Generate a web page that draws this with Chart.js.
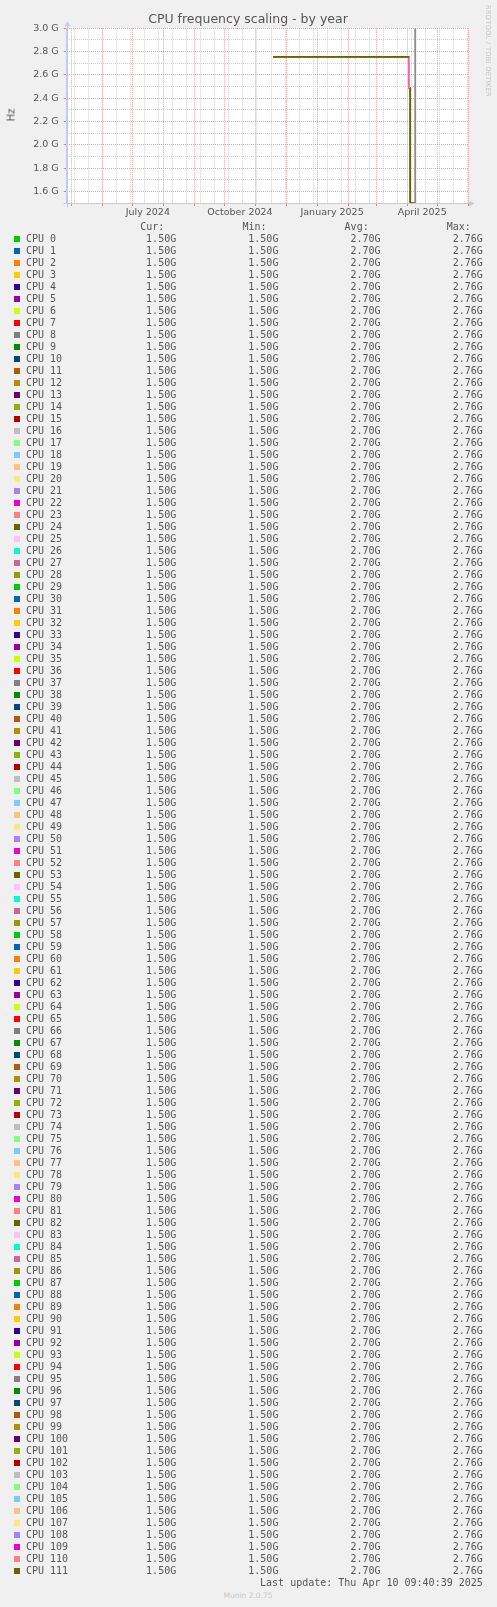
<!DOCTYPE html>
<html lang="en">
<head>
<meta charset="UTF-8" />
<title>CPU frequency scaling - by year</title>
<script src="https://cdn.jsdelivr.net/npm/chart.js"></script>
<style>
  body {
    margin: 0;
    background: #f0f0f0;
    width: 497px;
    height: 1607px;
    position: relative;
    overflow: hidden;
    font-family: "DejaVu Sans", sans-serif;
    color: #555;
  }
  #graph { position: absolute; left: 0; top: 0; }
  .t { position: absolute; white-space: pre; }
  .title { left: 0; width: 496px; top: 11px; text-align: center; font-size: 12.5px; line-height: 16px; color: #555; }
  .hz { left: 11px; top: 115px; font-size: 10px; transform: translate(-50%, -50%) rotate(-90deg); }
  .rrd { left: 484px; top: 5px; font-size: 6.8px; color: #c4c4c4; writing-mode: vertical-rl; letter-spacing: 0.2px; }
  .mono { font-family: "DejaVu Sans Mono", monospace; font-size: 10px; line-height: 12px; color: #555; }
  .box { position: absolute; width: 6px; height: 6px; }
  .munin { left: 0; width: 496px; text-align: center; top: 1591px; font-size: 7.5px; line-height: 10px; color: #c8c8c8; }
</style>
</head>
<body>
<canvas id="graph" width="497" height="226"></canvas>
<div class="t title">CPU frequency scaling - by year</div>
<div class="t hz">Hz</div>
<div class="t rrd">RRDTOOL / TOBI OETIKER</div>
<div id="legend"></div>
<div class="t munin">Munin 2.0.75</div>

<script>
  // x values are days counted from the left edge of the plot (26 Apr 2024)
  const AXIS_START = Date.UTC(2024, 3, 26);
  function dayOf(s) {
    return (Date.parse(s + "T00:00:00Z") - AXIS_START) / 86400000;
  }

  const monthStarts = [
    "2024-05-01", "2024-06-01", "2024-07-01", "2024-08-01", "2024-09-01",
    "2024-10-01", "2024-11-01", "2024-12-01", "2025-01-01", "2025-02-01",
    "2025-03-01", "2025-04-01", "2025-05-01", "2025-06-01",
  ];
  const minorGridDays = [
    8, 22, 36, 50, 64, 78, 92, 106, 120, 134, 148, 162, 176, 190, 204,
    218, 232, 246, 260, 274, 288, 302, 316, 330, 344, 358, 372, 386, 400,
  ];
  const xLabelDates = ["2024-07-16", "2024-10-16", "2025-01-16", "2025-04-16"];
  const xLabelTexts = ["July 2024", "October 2024", "January 2025", "April 2025"];

  const yMajorTicks = [1.6, 1.8, 2.0, 2.2, 2.4, 2.6, 2.8, 3.0];
  const yMinorTicks = [1.7, 1.9, 2.1, 2.3, 2.5, 2.7, 2.9];

  // frequency trace in GHz (same for every core, CPU 111 has one unknown step)
  const freqTraceDays = [206, 342, 342, 343, 343, 348];
  const freqTraceGHz = [2.755, 2.755, 2.49, 2.49, 1.5, 1.5];
  const cpu111TraceGHz = [2.755, 2.755, null, 2.49, 1.5, 1.5];

  const markerDays = [348, 348];
  const markerGHz = [1.5, 3.0];

  const cpuLabels = Array.from({ length: 112 }, (_, i) => "CPU " + i);

  const curGHz = [
    1.50, 1.50, 1.50, 1.50, 1.50, 1.50, 1.50, 1.50, 1.50, 1.50, 1.50, 1.50, 1.50, 1.50, 1.50, 1.50,
    1.50, 1.50, 1.50, 1.50, 1.50, 1.50, 1.50, 1.50, 1.50, 1.50, 1.50, 1.50, 1.50, 1.50, 1.50, 1.50,
    1.50, 1.50, 1.50, 1.50, 1.50, 1.50, 1.50, 1.50, 1.50, 1.50, 1.50, 1.50, 1.50, 1.50, 1.50, 1.50,
    1.50, 1.50, 1.50, 1.50, 1.50, 1.50, 1.50, 1.50, 1.50, 1.50, 1.50, 1.50, 1.50, 1.50, 1.50, 1.50,
    1.50, 1.50, 1.50, 1.50, 1.50, 1.50, 1.50, 1.50, 1.50, 1.50, 1.50, 1.50, 1.50, 1.50, 1.50, 1.50,
    1.50, 1.50, 1.50, 1.50, 1.50, 1.50, 1.50, 1.50, 1.50, 1.50, 1.50, 1.50, 1.50, 1.50, 1.50, 1.50,
    1.50, 1.50, 1.50, 1.50, 1.50, 1.50, 1.50, 1.50, 1.50, 1.50, 1.50, 1.50, 1.50, 1.50, 1.50, 1.50,
  ];
  const minGHz = [
    1.50, 1.50, 1.50, 1.50, 1.50, 1.50, 1.50, 1.50, 1.50, 1.50, 1.50, 1.50, 1.50, 1.50, 1.50, 1.50,
    1.50, 1.50, 1.50, 1.50, 1.50, 1.50, 1.50, 1.50, 1.50, 1.50, 1.50, 1.50, 1.50, 1.50, 1.50, 1.50,
    1.50, 1.50, 1.50, 1.50, 1.50, 1.50, 1.50, 1.50, 1.50, 1.50, 1.50, 1.50, 1.50, 1.50, 1.50, 1.50,
    1.50, 1.50, 1.50, 1.50, 1.50, 1.50, 1.50, 1.50, 1.50, 1.50, 1.50, 1.50, 1.50, 1.50, 1.50, 1.50,
    1.50, 1.50, 1.50, 1.50, 1.50, 1.50, 1.50, 1.50, 1.50, 1.50, 1.50, 1.50, 1.50, 1.50, 1.50, 1.50,
    1.50, 1.50, 1.50, 1.50, 1.50, 1.50, 1.50, 1.50, 1.50, 1.50, 1.50, 1.50, 1.50, 1.50, 1.50, 1.50,
    1.50, 1.50, 1.50, 1.50, 1.50, 1.50, 1.50, 1.50, 1.50, 1.50, 1.50, 1.50, 1.50, 1.50, 1.50, 1.50,
  ];
  const avgGHz = [
    2.70, 2.70, 2.70, 2.70, 2.70, 2.70, 2.70, 2.70, 2.70, 2.70, 2.70, 2.70, 2.70, 2.70, 2.70, 2.70,
    2.70, 2.70, 2.70, 2.70, 2.70, 2.70, 2.70, 2.70, 2.70, 2.70, 2.70, 2.70, 2.70, 2.70, 2.70, 2.70,
    2.70, 2.70, 2.70, 2.70, 2.70, 2.70, 2.70, 2.70, 2.70, 2.70, 2.70, 2.70, 2.70, 2.70, 2.70, 2.70,
    2.70, 2.70, 2.70, 2.70, 2.70, 2.70, 2.70, 2.70, 2.70, 2.70, 2.70, 2.70, 2.70, 2.70, 2.70, 2.70,
    2.70, 2.70, 2.70, 2.70, 2.70, 2.70, 2.70, 2.70, 2.70, 2.70, 2.70, 2.70, 2.70, 2.70, 2.70, 2.70,
    2.70, 2.70, 2.70, 2.70, 2.70, 2.70, 2.70, 2.70, 2.70, 2.70, 2.70, 2.70, 2.70, 2.70, 2.70, 2.70,
    2.70, 2.70, 2.70, 2.70, 2.70, 2.70, 2.70, 2.70, 2.70, 2.70, 2.70, 2.70, 2.70, 2.70, 2.70, 2.70,
  ];
  const maxGHz = [
    2.76, 2.76, 2.76, 2.76, 2.76, 2.76, 2.76, 2.76, 2.76, 2.76, 2.76, 2.76, 2.76, 2.76, 2.76, 2.76,
    2.76, 2.76, 2.76, 2.76, 2.76, 2.76, 2.76, 2.76, 2.76, 2.76, 2.76, 2.76, 2.76, 2.76, 2.76, 2.76,
    2.76, 2.76, 2.76, 2.76, 2.76, 2.76, 2.76, 2.76, 2.76, 2.76, 2.76, 2.76, 2.76, 2.76, 2.76, 2.76,
    2.76, 2.76, 2.76, 2.76, 2.76, 2.76, 2.76, 2.76, 2.76, 2.76, 2.76, 2.76, 2.76, 2.76, 2.76, 2.76,
    2.76, 2.76, 2.76, 2.76, 2.76, 2.76, 2.76, 2.76, 2.76, 2.76, 2.76, 2.76, 2.76, 2.76, 2.76, 2.76,
    2.76, 2.76, 2.76, 2.76, 2.76, 2.76, 2.76, 2.76, 2.76, 2.76, 2.76, 2.76, 2.76, 2.76, 2.76, 2.76,
    2.76, 2.76, 2.76, 2.76, 2.76, 2.76, 2.76, 2.76, 2.76, 2.76, 2.76, 2.76, 2.76, 2.76, 2.76, 2.76,
  ];

  const lastUpdate = "Last update: Thu Apr 10 09:40:39 2025";

  const palette = [
    "#00CC00", "#0066B3", "#FF8000", "#FFCC00", "#330099", "#990099", "#CCFF00",
    "#FF0000", "#808080", "#008F00", "#00487D", "#B35A00", "#B38F00", "#6B006B",
    "#8FB300", "#B30000", "#BEBEBE", "#80FF80", "#80C9FF", "#FFC080", "#FFE680",
    "#AA80FF", "#EE00CC", "#FF8080", "#666600", "#FFBFFF", "#00FFCC", "#CC6699",
    "#999900",
  ];

  const RED_GRID = "#eba3a3";
  const GREY_GRID = "#cfcfcf";
  const AXIS_COLOR = "#c4c8f2";

  // x ticks: minor first so month lines are painted on top
  const xTicks = []
    .concat(minorGridDays.map((d) => ({ value: d, kind: "minor" })))
    .concat(monthStarts.map((s) => ({ value: dayOf(s), kind: "month" })))
    .concat(xLabelDates.map((s, i) => ({ value: dayOf(s), kind: "label", text: xLabelTexts[i] })));

  const yTicks = []
    .concat(yMinorTicks.map((v) => ({ value: v, kind: "minor" })))
    .concat(yMajorTicks.map((v) => ({ value: v, kind: "major" })));

  const datasets = cpuLabels.map((name, i) => {
    const ys = i === 111 ? cpu111TraceGHz : freqTraceGHz;
    return {
      label: name,
      data: freqTraceDays.map((d, k) => ({ x: d, y: ys[k] })),
      borderColor: palette[i % palette.length],
      borderWidth: 1.6,
      pointRadius: 0,
      tension: 0,
      fill: false,
      order: 111 - i,
    };
  });
  datasets.push({
    label: "marker",
    data: markerDays.map((d, k) => ({ x: d, y: markerGHz[k] })),
    borderColor: "#8c8c8c",
    borderWidth: 1.8,
    pointRadius: 0,
    fill: false,
    order: -1,
  });

  const plotBackground = {
    id: "plotBackground",
    beforeDraw(chart) {
      const a = chart.chartArea;
      const ctx = chart.ctx;
      ctx.save();
      ctx.fillStyle = "#ffffff";
      ctx.fillRect(a.left, a.top, a.right - a.left, a.bottom - a.top);
      ctx.restore();
    },
  };

  const axisArrows = {
    id: "axisArrows",
    afterDraw(chart) {
      const a = chart.chartArea;
      const ctx = chart.ctx;
      const x0 = Math.round(a.left) + 0.5;
      const y0 = Math.round(a.bottom) + 0.5;
      ctx.save();
      ctx.strokeStyle = AXIS_COLOR;
      ctx.fillStyle = AXIS_COLOR;
      ctx.lineWidth = 1;
      ctx.beginPath();
      ctx.moveTo(x0 - 4, y0);
      ctx.lineTo(a.right + 3, y0);
      ctx.moveTo(x0, y0 + 4);
      ctx.lineTo(x0, a.top - 3);
      ctx.stroke();
      ctx.beginPath();
      ctx.moveTo(a.right + 6, y0);
      ctx.lineTo(a.right + 1, y0 - 3);
      ctx.lineTo(a.right + 1, y0 + 3);
      ctx.closePath();
      ctx.fill();
      ctx.beginPath();
      ctx.moveTo(x0, a.top - 7);
      ctx.lineTo(x0 - 3, a.top - 2);
      ctx.lineTo(x0 + 3, a.top - 2);
      ctx.closePath();
      ctx.fill();
      ctx.restore();
    },
  };

  new Chart(document.getElementById("graph").getContext("2d"), {
    type: "line",
    data: { datasets: datasets },
    plugins: [plotBackground, axisArrows],
    options: {
      responsive: false,
      animation: false,
      events: [],
      layout: { padding: { left: 0, right: 28.7, top: 28.3, bottom: 0 } },
      plugins: { legend: { display: false }, title: { display: false }, tooltip: { enabled: false } },
      scales: {
        x: {
          type: "linear",
          min: 0,
          max: 401,
          afterFit: (s) => { s.height = 23; },
          afterBuildTicks: (s) => { s.ticks = xTicks.map((t) => Object.assign({}, t)); },
          ticks: {
            autoSkip: false,
            maxRotation: 0,
            padding: 1,
            color: "#555",
            font: { family: "DejaVu Sans", size: 9.5 },
            callback: (v, i, ticks) => (ticks[i].kind === "label" ? ticks[i].text : ""),
          },
          grid: {
            color: (c) => (c.tick && c.tick.kind === "month" ? RED_GRID : GREY_GRID),
            lineWidth: (c) => (c.tick && c.tick.kind === "label" ? 0 : 1),
            tickLength: 3,
            tickColor: (c) => (c.tick && c.tick.kind === "month" ? "#e08080" : "rgba(0,0,0,0)"),
          },
          border: { color: AXIS_COLOR, dash: [1, 1] },
        },
        y: {
          type: "linear",
          min: 1.5,
          max: 3.0,
          afterFit: (s) => { s.width = 66.7; },
          afterBuildTicks: (s) => { s.ticks = yTicks.map((t) => Object.assign({}, t)); },
          ticks: {
            autoSkip: false,
            padding: 5,
            color: "#555",
            font: { family: "DejaVu Sans", size: 9.5 },
            callback: (v, i, ticks) => (ticks[i].kind === "major" ? ticks[i].value.toFixed(1) + " G" : ""),
          },
          grid: {
            color: (c) => (c.tick && c.tick.kind === "major" ? RED_GRID : GREY_GRID),
            lineWidth: 1,
            tickLength: 3,
            tickColor: (c) => (c.tick && c.tick.kind === "major" ? "#e08080" : "rgba(0,0,0,0)"),
          },
          border: { color: AXIS_COLOR, dash: [1, 1] },
        },
      },
    },
  });

  // legend table under the graph
  const legend = document.getElementById("legend");
  const ROW0 = 239.3;
  const ROW_STEP = 12;
  const colRight = [176.2, 278.4, 380.6, 482.8];
  const colHeads = ["Cur:", "Min:", "Avg:", "Max:"];
  const colValues = [curGHz, minGHz, avgGHz, maxGHz];

  function addText(text, top, left, right) {
    const d = document.createElement("div");
    d.className = "t mono";
    d.textContent = text;
    d.style.top = top + "px";
    if (right !== undefined) {
      d.style.right = 497 - right + "px";
      d.style.textAlign = "right";
    } else {
      d.style.left = left + "px";
    }
    legend.appendChild(d);
  }

  colHeads.forEach((h, c) => addText(h, ROW0 - ROW_STEP - 6, colRight[c] - 36));

  cpuLabels.forEach((name, i) => {
    const cy = ROW0 + ROW_STEP * i;
    const box = document.createElement("div");
    box.className = "box";
    box.style.left = "14px";
    box.style.top = cy - 3 + "px";
    box.style.background = palette[i % palette.length];
    legend.appendChild(box);
    addText(name, cy - 6, 26);
    colValues.forEach((vals, c) => addText(vals[i].toFixed(2) + "G", cy - 6, null, colRight[c]));
  });

  addText(lastUpdate, ROW0 + ROW_STEP * cpuLabels.length - 6, null, colRight[3]);
</script>
</body>
</html>
